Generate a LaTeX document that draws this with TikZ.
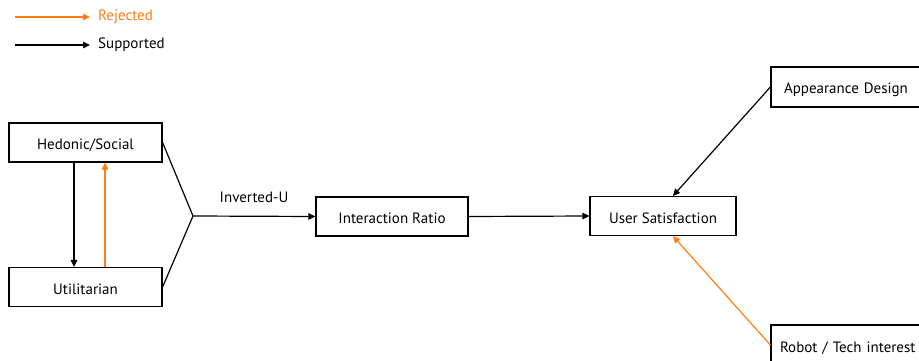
\documentclass[tikz,border=0pt]{standalone}
\usepackage{fontspec}
\setmainfont{PT Sans}
\usetikzlibrary{arrows.meta}
\definecolor{rej}{RGB}{255,125,20}
\begin{document}
\begin{tikzpicture}[x=1pt,y=-1pt,
  box/.style={draw,line width=1.2pt,minimum height=39pt,inner sep=0pt,text height=14pt,text depth=0pt,font=\fontsize{15}{17}\selectfont},
  lbl/.style={font=\fontsize{15}{17}\selectfont,inner sep=0pt},
  arr/.style={line width=1.2pt,-{Triangle[length=7pt,width=6.5pt]}},
  rarr/.style={arr,draw=rej,fill=rej}]
\useasboundingbox (0,0) rectangle (919,361);
\clip (0,0) rectangle (919,361);
% legend
\coordinate (l1a) at (15,17); \coordinate (l1b) at (90,17);
\coordinate (l2a) at (15,45); \coordinate (l2b) at (90,45);
\draw[rarr] (l1a) -- (l1b);
\draw[arr] (l2a) -- (l2b);
\node[lbl,anchor=base west,text=rej] (rejt) at (98,21) {Rejected};
\node[lbl,anchor=base west] (supt) at (98,49) {Supported};
% boxes
\node[box,minimum width=153pt] (hed) at (85.5,142.5) {Hedonic/Social};
\node[box,minimum width=153pt] (uti) at (85.5,287) {Utilitarian};
\node[box,minimum width=152pt] (int) at (392,216.5) {Interaction Ratio};
\node[box,minimum width=146pt] (usr) at (663,216) {User Satisfaction};
\node[box,minimum width=170pt,minimum height=40pt,text width=144pt,align=left] (app) at (856,87) {Appearance Design};
\node[box,minimum width=170pt,minimum height=40pt,text width=152pt,align=left] (rob) at (856,345) {Robot / Tech interest};
% connectors
\coordinate (j) at (193,216);
\draw[line width=1.2pt] (hed.east) -- (j) -- (uti.east);
\draw[arr] (j) -- (int.west);
\node[lbl,anchor=base] (inv) at (254,202) {Inverted-U};
\draw[arr] (int.east) -- (usr.west);
\draw[arr] (hed.south -| 74,0) -- (uti.north -| 74,0);
\draw[rarr] (uti.north -| 105,0) -- (hed.south -| 105,0);
\draw[arr] (app.west) -- (usr.north -| 673,0);
\draw[rarr] (rob.west) -- (usr.south -| 673,0);
\end{tikzpicture}
\end{document}
